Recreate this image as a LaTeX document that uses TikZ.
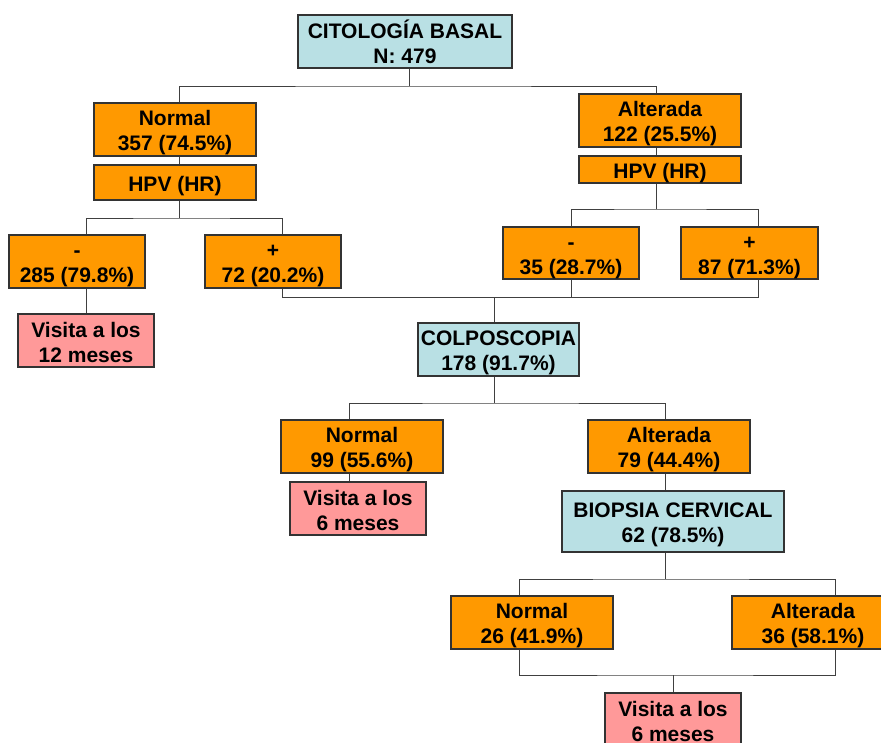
\documentclass[tikz,border=0pt]{standalone}
\usepackage{fontspec}
\setmainfont{Liberation Sans}
\definecolor{boxorange}{HTML}{FF9900}
\definecolor{boxblue}{HTML}{B9E0E4}
\definecolor{boxpink}{HTML}{FF9999}
\definecolor{edgegray}{HTML}{333333}
\definecolor{wiregray}{HTML}{404040}
% strut giving every text line the same height and depth
\newcommand{\linestrut}{\rule[-3pt]{0pt}{25pt}}
\newcommand{\twolines}[2]{\linestrut #1\\\linestrut #2}
\tikzset{
  box/.style={draw=edgegray, line width=1.1pt, inner sep=0pt, align=center,
    font=\fontsize{21}{25}\selectfont\bfseries, text=black},
  orangebox/.style={box, fill=boxorange, minimum width=162pt, minimum height=53pt},
  smallorange/.style={box, fill=boxorange, minimum width=136pt, minimum height=53pt},
  bluebox/.style={box, fill=boxblue, minimum height=53pt},
  pinkbox/.style={box, fill=boxpink, minimum width=136pt, minimum height=53pt},
  conn/.style={draw=wiregray, line width=1pt}
}
\begin{document}
\begin{tikzpicture}[x=1pt, y=-1pt]
  \useasboundingbox (0,0) rectangle (881,742);
  \fill[white] (0,0) rectangle (881,742);
  \clip (0,0) rectangle (881,742);

  % baseline cytology
  \node[bluebox, minimum width=214pt] (cito) at (405,41.5) {\twolines{CITOLOGÍA BASAL}{N: 479}};

  % left branch: normal cytology
  \node[orangebox] (n1) at (175,129.5) {\twolines{Normal}{357 (74.5\%)}};
  \node[orangebox, minimum height=35pt] (hpv1) at (175,182.5) {\linestrut HPV (HR)};
  \node[smallorange] (neg1) at (77,261.5) {\twolines{-}{285 (79.8\%)}};
  \node[smallorange] (pos1) at (273,261.5) {\twolines{+}{72 (20.2\%)}};
  \node[pinkbox] (vis12) at (86,340.5) {\twolines{Visita a los}{12 meses}};

  % right branch: altered cytology
  \node[orangebox] (alt1) at (660,120.5) {\twolines{Alterada}{122 (25.5\%)}};
  \node[orangebox, minimum height=27pt] (hpv2) at (660,169.5) {\linestrut HPV (HR)};
  \node[smallorange, minimum height=52pt] (neg2) at (571,253) {\twolines{-}{35 (28.7\%)}};
  \node[smallorange, minimum width=137pt, minimum height=52pt] (pos2) at (749.5,253) {\twolines{+}{87 (71.3\%)}};

  % colposcopy
  \node[bluebox, minimum width=161pt] (colpo) at (498.5,349.5) {\twolines{COLPOSCOPIA}{178 (91.7\%)}};
  \node[orangebox] (n2) at (362,446.5) {\twolines{Normal}{99 (55.6\%)}};
  \node[pinkbox] (vis6a) at (358,508.5) {\twolines{Visita a los}{6 meses}};
  \node[orangebox] (alt2) at (669,446.5) {\twolines{Alterada}{79 (44.4\%)}};

  % cervical biopsy
  \node[bluebox, minimum width=222pt, minimum height=61pt] (biop) at (673,521.5) {\twolines{BIOPSIA CERVICAL}{62 (78.5\%)}};
  \node[orangebox] (n3) at (532,622.5) {\twolines{Normal}{26 (41.9\%)}};
  \node[orangebox] (alt3) at (813,622.5) {\twolines{Alterada}{36 (58.1\%)}};
  \node[pinkbox] (vis6b) at (673,719.5) {\twolines{Visita a los}{6 meses}};

  % junction points of the connectors
  \coordinate (j1) at (409,86);
  \coordinate (j2) at (179,218);
  \coordinate (j3) at (656,209);
  \coordinate (j4) at (494,297);
  \coordinate (j5) at (494,403);
  \coordinate (j6) at (665,579);
  \coordinate (j7) at (673,675);

  % attachment points
  \coordinate (citoS) at ([xshift=4pt]cito.south);
  \coordinate (n1N) at ([xshift=4pt]n1.north);
  \coordinate (n1S) at ([xshift=4pt]n1.south);
  \coordinate (hpv1N) at ([xshift=4pt]hpv1.north);
  \coordinate (hpv1S) at ([xshift=4pt]hpv1.south);
  \coordinate (neg1N) at ([xshift=9pt]neg1.north);
  \coordinate (neg1S) at ([xshift=9pt]neg1.south);
  \coordinate (pos1N) at ([xshift=9pt]pos1.north);
  \coordinate (pos1S) at ([xshift=9pt]pos1.south);
  \coordinate (alt1N) at ([xshift=-4pt]alt1.north);
  \coordinate (alt1S) at ([xshift=-4pt]alt1.south);
  \coordinate (hpv2N) at ([xshift=-4pt]hpv2.north);
  \coordinate (hpv2S) at ([xshift=-4pt]hpv2.south);
  \coordinate (pos2N) at ([xshift=8.5pt]pos2.north);
  \coordinate (pos2S) at ([xshift=8.5pt]pos2.south);
  \coordinate (colpoN) at ([xshift=-4.5pt]colpo.north);
  \coordinate (colpoS) at ([xshift=-4.5pt]colpo.south);
  \coordinate (n2N) at ([xshift=-13pt]n2.north);
  \coordinate (n2S) at ([xshift=-13pt]n2.south);
  \coordinate (vis6aN) at ([xshift=-9pt]vis6a.north);
  \coordinate (alt2N) at ([xshift=-4pt]alt2.north);
  \coordinate (alt2S) at ([xshift=-4pt]alt2.south);
  \coordinate (biopN) at ([xshift=-8pt]biop.north);
  \coordinate (biopS) at ([xshift=-8pt]biop.south);
  \coordinate (n3N) at ([xshift=-13pt]n3.north);
  \coordinate (n3S) at ([xshift=-13pt]n3.south);
  \coordinate (alt3N) at ([xshift=22pt]alt3.north);
  \coordinate (alt3S) at ([xshift=22pt]alt3.south);

  % connectors
  \draw[conn] (citoS) -- (j1);
  \draw[conn] (n1N) |- (j1) -| (alt1N);
  \draw[conn] (n1S) -- (hpv1N);
  \draw[conn] (hpv1S) -- (j2);
  \draw[conn] (neg1N) |- (j2) -| (pos1N);
  \draw[conn] (neg1S) -- (vis12.north);
  \draw[conn] (alt1S) -- (hpv2N);
  \draw[conn] (hpv2S) -- (j3);
  \draw[conn] (neg2.north) |- (j3) -| (pos2N);
  \draw[conn] (pos1S) |- (j4);
  \draw[conn] (pos2S) |- (j4);
  \draw[conn] (neg2.south) -- (neg2.south |- j4);
  \draw[conn] (j4) -- (colpoN);
  \draw[conn] (colpoS) -- (j5);
  \draw[conn] (n2N) |- (j5) -| (alt2N);
  \draw[conn] (n2S) -- (vis6aN);
  \draw[conn] (alt2S) -- (biopN);
  \draw[conn] (biopS) -- (j6);
  \draw[conn] (n3N) |- (j6) -| (alt3N);
  \draw[conn] (n3S) |- (j7) -| (alt3S);
  \draw[conn] (j7) -- (vis6b.north);
\end{tikzpicture}
\end{document}
